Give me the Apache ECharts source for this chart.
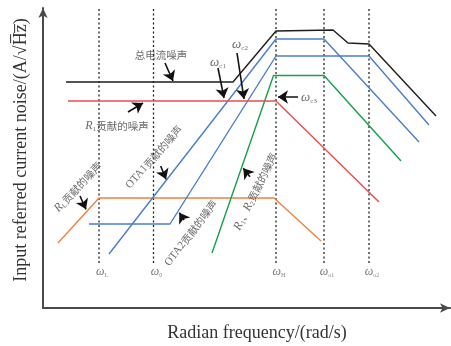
<!DOCTYPE html>
<html>
<head>
<meta charset="utf-8">
<script src="https://cdn.jsdelivr.net/npm/echarts@6/dist/echarts.min.js"></script>
<style>html,body{margin:0;padding:0;background:#fff}#c{width:451px;height:346px}</style>
</head>
<body>
<div id="c"></div>
<script>
// Schematic units (arbitrary): x = frequency position, y = noise level
const freqMarks = [
  { name: 'L', x: 56 },
  { name: '0', x: 110.5 },
  { name: 'H', x: 233 },
  { name: 'o1', x: 281 },
  { name: 'o2', x: 326 }
];
const markBottom = 45, markTop = 300;

const totalNoise = [[23,226],[190,226],[233,277],[290,278],[305,265],[326,264],[393,192]];
const r1Noise    = [[25,207],[233,207],[336,106]];
const ota1Noise  = [[66,54],[233,269],[281,269],[376,166]];
const ota2Noise  = [[46,84],[127,84],[233,252],[326,252],[386,183]];
const r1r2Noise  = [[169,55],[230.5,232.5],[281,232.5],[358,147]];
const rlNoise    = [[15,65],[56,110],[231,110],[278,67]];

// annotation arrows: [from, to]
const arrows = [
  [[122,245],[130,227]],
  [[175,240],[181,210]],
  [[194,255],[201,209]],
  [[255,211],[235,211]],
  [[85,196],[100,205]],
  [[117.7,142],[123,128.7]],
  [[37,112],[43,98.7]],
  [[141,88],[136.3,95.3]],
  [[207,131.3],[200.3,139.7]]
];

// annotation texts: [x, y, rich text, rotation]
const notes = [
  [118, 253, '{cn|总电流噪声}', 0],
  [74, 182, '{it|R}{sub|1}{cn|贡献的噪声}', 0],
  [175, 245, '{w|ω}{sub|c1}', 0],
  [197, 263, '{w|ω}{sub|c2}', 0],
  [266, 210, '{w|ω}{sub|c3}', 0],
  [35, 121, '{it|R}{sub|L}{cn|贡献的噪声}', 47],
  [111, 151, '{lat|OTA1}{cn|贡献的噪声}', 49],
  [148, 75, '{lat|OTA2}{cn|贡献的噪声}', 53],
  [212.5, 116.5, '{it|R}{sub|1}{cn|、}{it|R}{sub|2}{cn|贡献的噪声}', 64]
];

const colors = {
  total: '#1e1e1e', r1: '#ee4b4f', ota: '#4a7dcc', r1r2: '#13a24b', rl: '#ef8140'
};

const rich = {
  cn: { fontFamily: 'Noto Sans CJK SC', fontSize: 10.5, color: '#444' },
  lat: { fontFamily: 'Liberation Serif', fontSize: 11, color: '#444' },
  it: { fontFamily: 'Liberation Serif', fontStyle: 'italic', fontSize: 12, color: '#444' },
  w: { fontFamily: 'Liberation Serif', fontStyle: 'italic', fontSize: 13, color: '#444' },
  sub: { fontFamily: 'Liberation Serif', fontSize: 7, color: '#444', verticalAlign: 'bottom', padding: [6, 0, 0, 0] }
};

function lineSeries(data, color) {
  return { type: 'line', data: data, symbol: 'none', silent: true,
    lineStyle: { color: color, width: 1.4 }, z: 3 };
}

const series = [];
freqMarks.forEach(m => {
  series.push({ type: 'line', data: [[m.x, markBottom], [m.x, markTop]], symbol: 'none', silent: true,
    lineStyle: { color: '#222', width: 1.3, type: [2, 2.5] }, z: 2 });
});
series.push(lineSeries(rlNoise, colors.rl));
series.push(lineSeries(r1r2Noise, colors.r1r2));
series.push(lineSeries(ota2Noise, colors.ota));
series.push(lineSeries(ota1Noise, colors.ota));
series.push(lineSeries(r1Noise, colors.r1));
series.push(lineSeries(totalNoise, colors.total));
series.push({
  type: 'lines', coordinateSystem: 'cartesian2d', silent: true, z: 5,
  data: arrows.map(a => ({ coords: a })),
  symbol: ['none', 'arrow'], symbolSize: [8, 10],
  lineStyle: { color: '#111', width: 1.6, opacity: 1 }
});
series.push({
  type: 'scatter', symbolSize: 0, silent: true, z: 6,
  data: notes.map(n => ({ value: [n[0], n[1]],
    label: { show: true, position: 'inside', formatter: n[2], rotate: n[3], rich: rich,
      align: 'center', verticalAlign: 'middle' } }))
});
series.push({
  type: 'scatter', symbolSize: 0, silent: true, z: 6,
  data: freqMarks.map(m => ({ value: [m.x + 3, 36],
    label: { show: true, position: 'inside', formatter: '{w|ω}{sub|' + m.name + '}', rich: {
      w: { fontFamily: 'Liberation Serif', fontStyle: 'italic', fontSize: 12, color: '#555' },
      sub: { fontFamily: 'Liberation Serif', fontSize: 6, color: '#666', verticalAlign: 'bottom', padding: [6, 0, 0, 0] }
    } } }))
});

const chart = echarts.init(document.getElementById('c'), null, { renderer: 'canvas' });
chart.setOption({
  animation: false,
  backgroundColor: '#fff',
  grid: { left: 43, top: 8, right: 1, bottom: 38, containLabel: false },
  xAxis: {
    type: 'value', min: 0, max: 407,
    axisLine: { show: true, onZero: false, symbol: ['none', 'arrow'], symbolSize: [7, 10],
      lineStyle: { color: '#4a4a4a', width: 2 } },
    axisTick: { show: false }, axisLabel: { show: false }, splitLine: { show: false }
  },
  yAxis: {
    type: 'value', min: 0, max: 300,
    axisLine: { show: true, onZero: false, symbol: ['none', 'arrow'], symbolSize: [7, 10],
      lineStyle: { color: '#4a4a4a', width: 2 } },
    axisTick: { show: false }, axisLabel: { show: false }, splitLine: { show: false }
  },
  graphic: [
    { type: 'text', x: 257, y: 333, style: { text: 'Radian frequency/(rad/s)', font: '18px "Liberation Serif"',
      fill: '#333', align: 'center', verticalAlign: 'middle' } },
    { type: 'text', x: 21, y: 150, rotation: Math.PI / 2, style: { text: 'Input referred current noise/(A/√H̅z̅)',
      font: '18px "Liberation Serif"', fill: '#333', align: 'center', verticalAlign: 'middle' } }
  ],
  series: series
});
</script>
</body>
</html>
